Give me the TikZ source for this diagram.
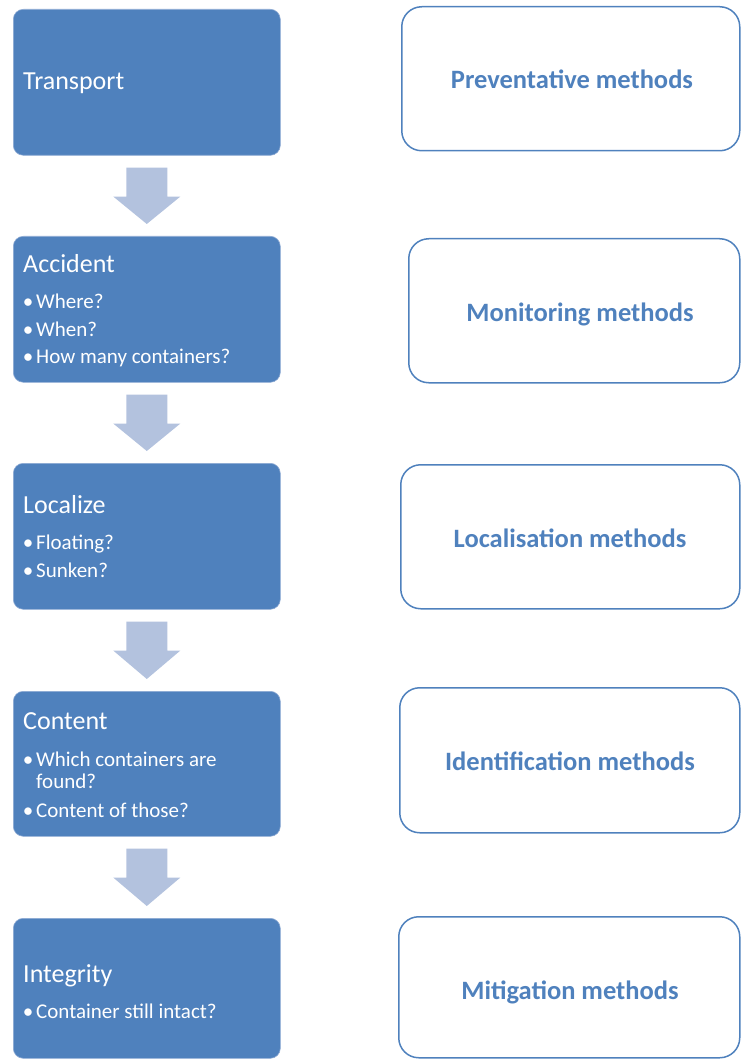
\documentclass[tikz,border=0pt]{standalone}
\usepackage{fontspec}
\setmainfont{Carlito}
\usetikzlibrary{calc}
\definecolor{accent}{HTML}{4F81BD}
\definecolor{arrowc}{HTML}{B3C2DE}
\definecolor{edgec}{HTML}{8FABD4}
\begin{document}
\begin{tikzpicture}[x=1pt,y=-1pt,
  stepbox/.style={fill=accent, draw=edgec, line width=0.6pt, rounded corners=10pt,
    minimum width=267pt, inner sep=0pt, anchor=north west},
  methodbox/.style={draw=accent, line width=1.5pt, rounded corners=20pt, inner sep=0pt, anchor=north west},
  steptitle/.style={text=white, font=\fontsize{26}{30}\selectfont, anchor=base west, inner sep=0pt},
  stepitem/.style={text=white, font=\fontsize{21}{25}\selectfont, anchor=base west, inner sep=0pt},
  stepbullet/.style={text=white, font=\fontsize{21}{25}\selectfont, anchor=base, inner sep=0pt},
  methodlabel/.style={text=accent, font=\bfseries\fontsize{26.5}{30}\selectfont, anchor=base, inner sep=0pt},
  flowarrow/.style={fill=arrowc}]
\useasboundingbox (0,0) rectangle (740,1059);

% left step boxes
\node[stepbox, minimum height=146pt] (b1) at (13,9) {};
\node[stepbox, minimum height=146pt] (b2) at (13,236) {};
\node[stepbox, minimum height=146pt] (b3) at (13,463) {};
\node[stepbox, minimum height=145pt] (b4) at (13,691) {};
\node[stepbox, minimum height=140pt] (b5) at (13,918) {};

% right method boxes
\node[methodbox, minimum width=338pt, minimum height=144pt] (m1) at (401,6) {};
\node[methodbox, minimum width=331pt, minimum height=144pt] (m2) at (408,238) {};
\node[methodbox, minimum width=339pt, minimum height=144pt] (m3) at (400,464) {};
\node[methodbox, minimum width=340pt, minimum height=145pt] (m4) at (399,687) {};
\node[methodbox, minimum width=341pt, minimum height=141pt] (m5) at (398,916) {};

% method labels
\node[methodlabel] (l1) at (572,89) {Preventative methods};
\node[methodlabel] (l2) at (580,321) {Monitoring methods};
\node[methodlabel] (l3) at (570,547) {Localisation methods};
\node[methodlabel] (l4) at (570,770) {Identification methods};
\node[methodlabel] (l5) at (570,999) {Mitigation methods};

% step texts
\node[steptitle] (t1) at (23,90) {Transport};

\node[steptitle] (t2) at (23,272) {Accident};
\node[stepbullet] (p21) at (28,308) {•};
\node[stepitem] (i21) at (36,308) {Where?};
\node[stepbullet] (p22) at (28,336) {•};
\node[stepitem] (i22) at (36,336) {When?};
\node[stepbullet] (p23) at (28,363) {•};
\node[stepitem] (i23) at (36,363) {How many containers?};

\node[steptitle] (t3) at (23,513) {Localize};
\node[stepbullet] (p31) at (28,549) {•};
\node[stepitem] (i31) at (36,549) {Floating?};
\node[stepbullet] (p32) at (28,577) {•};
\node[stepitem] (i32) at (36,577) {Sunken?};

\node[steptitle] (t4) at (23,729) {Content};
\node[stepbullet] (p41) at (28,766) {•};
\node[stepitem] (i41) at (36,766) {Which containers are};
\node[stepitem] (i41b) at (36,788) {found?};
\node[stepbullet] (p42) at (28,817) {•};
\node[stepitem] (i42) at (36,817) {Content of those?};

\node[steptitle] (t5) at (23,982) {Integrity};
\node[stepbullet] (p51) at (28,1018) {•};
\node[stepitem] (i51) at (36,1018) {Container still intact?};

% block arrows between steps
\foreach \a/\b in {b1/b2,b2/b3,b3/b4,b4/b5} {
  \fill[flowarrow] ($(\a.south)+(-20.5,12)$) -- ($(\a.south)+(20.5,12)$)
    -- ($(\a.south)+(20.5,41)$) -- ($(\a.south)+(33.5,41)$)
    -- ($(\b.north)+(0,-12)$)
    -- ($(\a.south)+(-33.5,41)$) -- ($(\a.south)+(-20.5,41)$) -- cycle;
}
\end{tikzpicture}
\end{document}
